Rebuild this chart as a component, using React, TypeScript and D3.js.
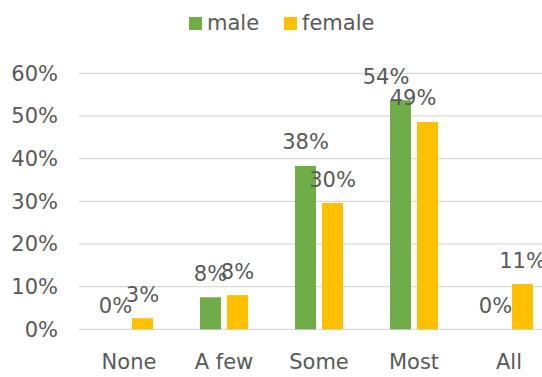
import React from "react";
import * as d3 from "d3";

const categories = ["None", "A few", "Some", "Most", "All"];
const seriesNames = ["male", "female"];
const maleValues = [0, 0.075, 0.383, 0.537, 0];
const femaleValues = [0.026, 0.08, 0.296, 0.486, 0.106];
const yTicks = [0, 0.1, 0.2, 0.3, 0.4, 0.5, 0.6];

const COLORS: Record<string, string> = { male: "#70AD47", female: "#FFC000" };
const TEXT = "#595959";
const FONT = "'DejaVu Sans', sans-serif";
const FS = 21;

export default function App() {
  const W = 542, H = 377;
  const x0 = d3.scaleBand<string>().domain(categories).range([81.5, 556.5]).paddingInner(0).paddingOuter(0);
  const bw = x0.bandwidth();
  const x1 = d3.scaleBand<string>().domain(seriesNames).range([bw / 2 - 24, bw / 2 + 24]).paddingInner(6 / 27);
  const y = d3.scaleLinear().domain([0, 0.6]).range([329.3, 73.3]);
  const fmt = d3.format(".0%");
  const values: Record<string, number[]> = { male: maleValues, female: femaleValues };
  const labelShift = (c: string) => (c === "Most" ? -14.5 : 0);

  return (
    <svg width={W} height={H} style={{ position: "absolute", left: 0, top: 0, background: "#fff" }} fontFamily={FONT}>
      {yTicks.map((t) => (
        <g key={t}>
          <line x1={79} x2={542} y1={y(t)} y2={y(t)} stroke="#D9D9D9" strokeWidth={1.2} />
          <text x={58} y={y(t) + 7.5} textAnchor="end" fontSize={FS} fill={TEXT}>{fmt(t)}</text>
        </g>
      ))}
      {categories.map((c, i) => (
        <g key={c} transform={`translate(${x0(c)},0)`}>
          {seriesNames.map((s) => {
            const v = values[s][i];
            const bx = x1(s)!;
            return (
              <g key={s}>
                <rect x={bx} y={y(v)} width={x1.bandwidth()} height={y(0) - y(v)} fill={COLORS[s]} />
                <text x={bx + x1.bandwidth() / 2 + labelShift(c)} y={y(v) - 16.5} textAnchor="middle" fontSize={FS} fill={TEXT}>{fmt(v)}</text>
              </g>
            );
          })}
          <text x={bw / 2} y={369} textAnchor="middle" fontSize={FS} fill={TEXT}>{c}</text>
        </g>
      ))}
      <g>
        <rect x={189} y={17} width={13} height={13} fill={COLORS.male} />
        <text x={207} y={30} fontSize={FS} fill={TEXT}>male</text>
        <rect x={284} y={17} width={13} height={13} fill={COLORS.female} />
        <text x={302} y={30} fontSize={FS} fill={TEXT}>female</text>
      </g>
    </svg>
  );
}
